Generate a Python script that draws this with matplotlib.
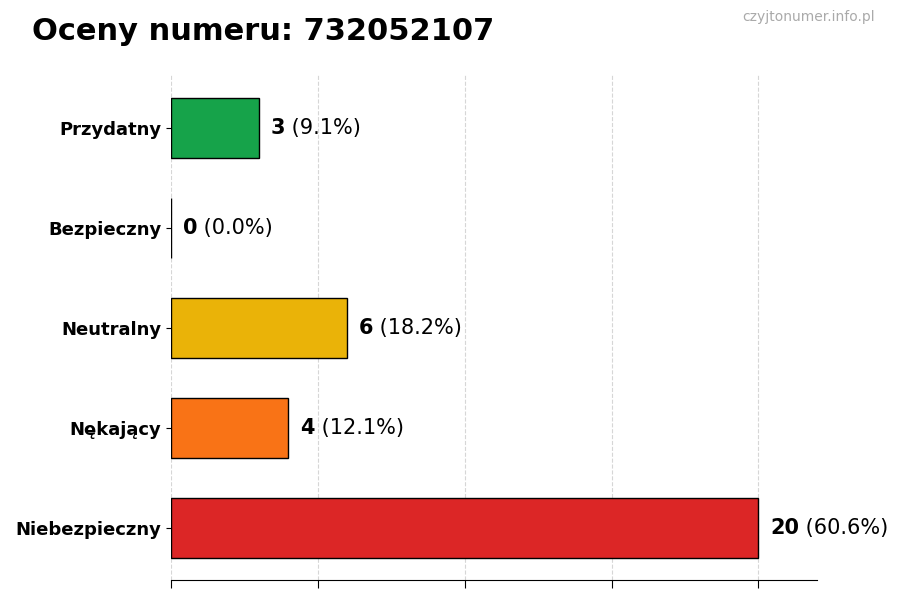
import matplotlib
matplotlib.use("Agg")
import matplotlib.pyplot as plt

# dane z wykresu (od dolu do gory)
kategorie = ["Niebezpieczny", "Nękający", "Neutralny", "Bezpieczny", "Przydatny"]
liczby = [20, 4, 6, 0, 3]
kolory = ["#dc2626", "#f97316", "#eab308", "#9ca3af", "#16a34a"]
numer = "732052107"

suma = sum(liczby)

fig = plt.figure(figsize=(9, 6), dpi=100)
ax = fig.add_axes([0.19, 0.033, 0.718, 0.842])

pos = list(range(len(kategorie)))
ax.barh(pos, liczby, height=0.6, color=kolory, edgecolor="black", linewidth=1, zorder=3)

for p, v in zip(pos, liczby):
    proc = 100.0 * v / suma
    t = ax.text(v + 0.4, p, f"{v}", fontsize=15, fontweight="bold", va="center", ha="left", zorder=4)
    ax.annotate(f" ({proc:.1f}%)", xycoords=t, xy=(1, 0.5), va="center", ha="left", fontsize=15)

ax.set_yticks(pos)
ax.set_yticklabels(kategorie, fontsize=13, fontweight="bold")
ax.set_xticks([0, 5, 10, 15, 20])
ax.set_xticklabels([])
ax.set_xlim(0, 22)
ax.set_ylim(-0.52, 4.53)
ax.tick_params(axis="x", length=6)
ax.grid(axis="x", linestyle="--", color="#cccccc", alpha=0.8, zorder=0)
for s in ["top", "right", "left"]:
    ax.spines[s].set_visible(False)

fig.text(0.035, 0.948, f"Oceny numeru: {numer}", fontsize=22, fontweight="bold", ha="left", va="center")
fig.text(0.972, 0.971, "czyjtonumer.info.pl", fontsize=10, color="#aaaaaa", ha="right", va="center")

fig.savefig("out.png", dpi=100)
